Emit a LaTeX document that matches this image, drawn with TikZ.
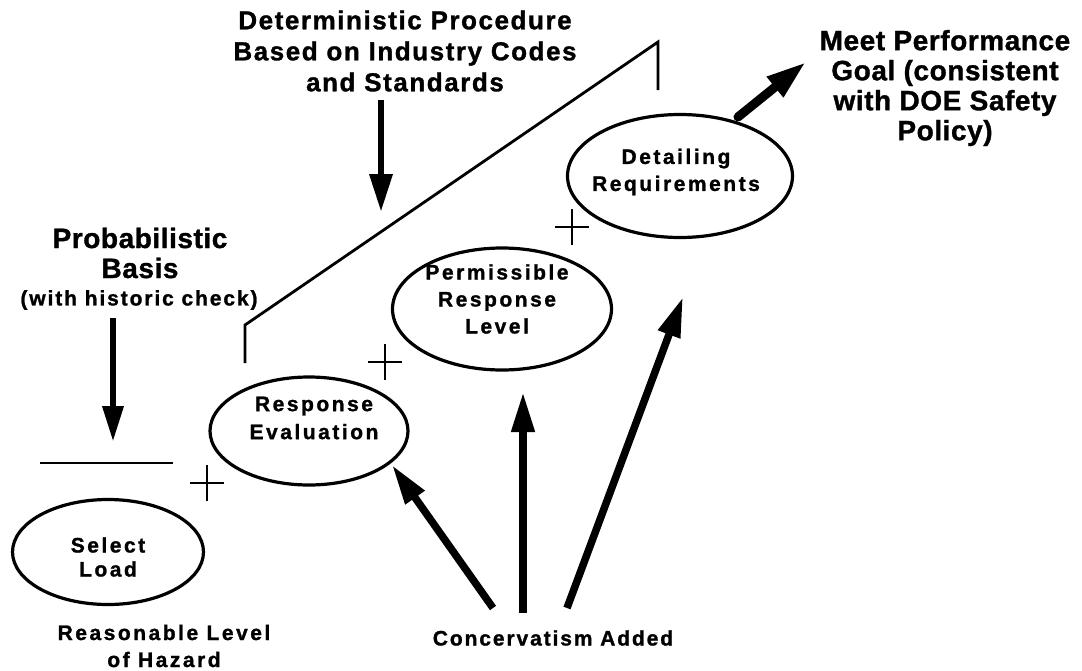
\documentclass[tikz,border=0pt]{standalone}
\usepackage{fontspec}
\setmainfont{Liberation Sans}
\usetikzlibrary{shapes.geometric,arrows.meta}
\begin{document}
\begin{tikzpicture}[x=1pt,y=-1pt,
  oval/.style={draw,ellipse,line width=3.2pt,inner sep=0pt},
  plain/.style={line width=2.8pt},
  bigarrow/.style={line width=6.5pt,-{Triangle[length=38pt,width=22pt]}},
  consarrow/.style={line width=7.5pt,-{Triangle[length=40pt,width=22pt]}},
  goalarrow/.style={line width=9pt,line cap=round,-{Triangle[length=40pt,width=24pt]}},
  smalltxt/.style={font={\fontsize{21}{27}\selectfont\bfseries\addfontfeature{LetterSpace=12,FakeBold=1.2}},align=center,inner sep=0pt},
  bigtxt/.style={font={\fontsize{26}{31}\selectfont\bfseries\addfontfeature{LetterSpace=6,FakeBold=1.2}},align=center,inner sep=0pt},
  goaltxt/.style={font={\fontsize{28}{30}\selectfont\bfseries\addfontfeature{LetterSpace=2,FakeBold=1.2}},align=center,inner sep=0pt}
]
\fill[white] (0,0) rectangle (1082,670);
\useasboundingbox (0,0) rectangle (1082,670);

% titles
\node[bigtxt] (det) at (405,51) {Deterministic Procedure\\Based on Industry Codes\\and Standards};
\node[goaltxt] (goal) at (945,88) {Meet Performance\\Goal (consistent\\with DOE Safety\\Policy)};
\node[goaltxt] (prob) at (140,253) {Probabilistic\\Basis};
\node[smalltxt,font={\fontsize{21}{27}\selectfont\bfseries\addfontfeature{LetterSpace=9,FakeBold=1.2}}] (hist) at (139,300) {(with historic check)};
\node[smalltxt] (haz) at (164,646) {Reasonable Level\\of Hazard};
\node[smalltxt,font={\fontsize{21}{27}\selectfont\bfseries\addfontfeature{LetterSpace=9,FakeBold=1.2}}] (cons) at (553,638) {Concervatism Added};

% ellipses
\node[oval,minimum width=191pt,minimum height=105pt] (sel) at (108,552) {};
\node[oval,minimum width=198pt,minimum height=108pt] (resp) at (309,431) {};
\node[oval,minimum width=219pt,minimum height=122pt] (perm) at (502,309) {};
\node[oval,minimum width=225pt,minimum height=123pt] (det2) at (680,176) {};

\node[smalltxt,font={\fontsize{21}{24}\selectfont\bfseries\addfontfeature{LetterSpace=12,FakeBold=1.2}}] (selt) at (108,557) {Select\\Load};
\node[smalltxt,font={\fontsize{21}{28}\selectfont\bfseries\addfontfeature{LetterSpace=12,FakeBold=1.2}}] (respt) at (314,418) {Response\\Evaluation};
\node[smalltxt] (permt) at (497,299) {Permissible\\Response\\Level};
\node[smalltxt] (det2t) at (676,172) {Detailing\\Requirements};

% bracket line and bar
\coordinate (b1) at (245,363);
\coordinate (b2) at (245,325);
\coordinate (b3) at (658,42);
\coordinate (b4) at (658,90);
\draw[plain,line join=miter] (b1) -- (b2) -- (b3) -- (b4);
\coordinate (h1) at (40,463);
\coordinate (h2) at (173,463);
\draw[plain] (h1) -- (h2);

% plus signs
\foreach \cx/\cy in {207/483, 385/362, 572/227}{
  \draw[line width=2.6pt] (\cx-17,\cy) -- (\cx+17,\cy);
  \draw[line width=2.6pt] (\cx,\cy-18) -- (\cx,\cy+18);
}

% arrows
\coordinate (detS) at (381,100);
\coordinate (detE) at (381,212);
\draw[bigarrow] (detS) -- (detE);
\coordinate (probS) at (113,318);
\coordinate (probE) at (113,442);
\draw[bigarrow,-{Triangle[length=36pt,width=20pt]}] (probS) -- (probE);
\coordinate (goalS) at (738,117);
\coordinate (goalE) at (806,62);
\draw[goalarrow] (goalS) -- (goalE);

\coordinate (c1) at (493,608);
\coordinate (c2) at (523,613);
\coordinate (c3) at (567,608);
\coordinate (t1) at (392,465);
\coordinate (t2) at (523,392);
\coordinate (t3) at (683,297);
\draw[consarrow] (c1) -- (t1);
\draw[consarrow] (c2) -- (t2);
\draw[consarrow] (c3) -- (t3);
\end{tikzpicture}
\end{document}
